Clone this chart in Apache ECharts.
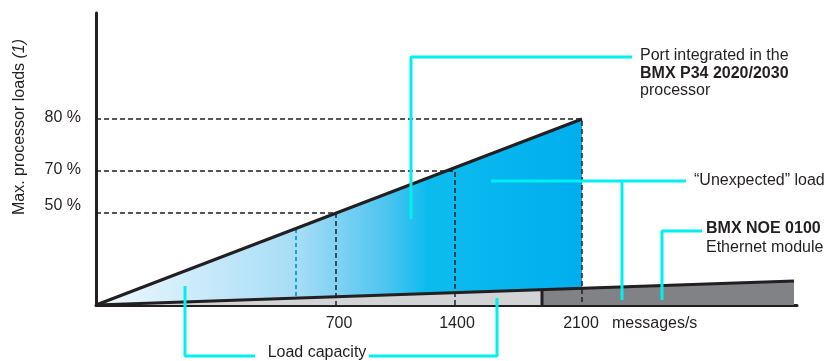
<!DOCTYPE html>
<html>
<head>
<meta charset="utf-8">
<script src="https://cdn.jsdelivr.net/npm/echarts@6/dist/echarts.min.js"></script>
<style>
  html, body { margin: 0; padding: 0; background: #fff; }
  #chart { width: 840px; height: 361px; }
</style>
</head>
<body>
<div id="chart"></div>
<script>
// schematic units: the drawing is not to scale, so axes run in plain diagram units
const xTickPos = [243, 361, 485]
const xTickLabels = ['700', '1400', '2100']
const yTickPos = [99, 135, 187]
const yTickLabels = ['50 %', '70 %', '80 %']

// processor port load line (0 -> 2100 msg/s) and its guide levels
const procLine = [[0, 0], [486, 186]]
const guidePoints = [[240, 92], [359, 134], [486, 186]]
// BMX NOE module load line, split where the light part ends
const moduleLine = [[0, 0], [698, 24]]
const splitX = 446
// extra dashed marker inside the triangle
const blueMarker = [[200, 76], [200, 8]]

// callout leader lines
const calloutPort = [[315, 86], [315, 248], [536, 248]]
const calloutUnexpH = [[395, 124], [590, 124]]
const calloutUnexpV = [[526, 124], [526, 5]]
const calloutNoe = [[566, 5], [566, 74], [606, 74]]
const calloutCapLeft = [[89, 19], [89, -51], [159, -51]]
const calloutCapRight = [[273, -51], [401, -51], [401, 7]]

const FONT = '"Liberation Sans", Arial, Helvetica, sans-serif'
const INK = '#231f20'
const CYAN = '#00f0f0'

const moduleAt = x => moduleLine[1][1] * x / moduleLine[1][0]

const polygons = {
  blue: [[0, 0], procLine[1], [procLine[1][0], moduleAt(procLine[1][0])]],
  light: [[0, 0], [splitX, moduleAt(splitX)], [splitX, 0]],
  dark: [[splitX, 0], [splitX, moduleAt(splitX)], moduleLine[1], [moduleLine[1][0], 0]]
}

const blueFill = new echarts.graphic.LinearGradient(0, 0, 1, 0, [
  { offset: 0, color: '#f0f9fe' },
  { offset: 0.42, color: '#a5dcf6' },
  { offset: 0.6, color: '#4cc4f0' },
  { offset: 0.68, color: '#0dbcee' },
  { offset: 1, color: '#00aeef' }
])

const polySeries = (name, pts, fill, z) => ({
  name,
  type: 'custom',
  z,
  clip: false,
  data: [0],
  renderItem: (params, api) => ({
    type: 'polygon',
    shape: { points: pts.map(p => api.coord(p)) },
    style: { fill }
  })
})

const lineSeries = (data, color, width, type, z) => ({
  type: 'line',
  data,
  z,
  clip: false,
  silent: true,
  symbol: 'none',
  animation: false,
  lineStyle: { color, width, type, cap: 'butt' }
})

const dashedGuides = guidePoints.map(p => lineSeries([[0, p[1]], p, [p[0], 0]], INK, 1.5, [5, 3], 3))

const chart = echarts.init(document.getElementById('chart'))

const txt = (text, x, y, extra) => ({
  type: 'text',
  x, y,
  z: 10,
  style: Object.assign({
    text,
    font: '16px ' + FONT,
    fill: INK,
    textAlign: 'left',
    textVerticalAlign: 'middle'
  }, extra || {})
})

chart.setOption({
  animation: false,
  grid: { left: 96, right: 43, top: 13, bottom: 56, containLabel: false, outerBoundsMode: 'none' },
  xAxis: {
    type: 'value',
    min: 0,
    max: 701,
    axisLine: { show: true, onZero: false, lineStyle: { color: INK, width: 3 } },
    axisTick: { show: false },
    splitLine: { show: false },
    axisLabel: {
      customValues: xTickPos,
      formatter: v => xTickLabels[xTickPos.indexOf(v)],
      margin: 11,
      color: INK,
      fontSize: 16,
      fontFamily: FONT
    }
  },
  yAxis: {
    type: 'value',
    min: 0,
    max: 292,
    axisLine: { show: true, onZero: false, lineStyle: { color: INK, width: 3 } },
    axisTick: { show: false },
    splitLine: { show: false },
    axisLabel: {
      customValues: yTickPos,
      formatter: v => yTickLabels[yTickPos.indexOf(v)],
      margin: 15,
      color: INK,
      fontSize: 16,
      fontFamily: FONT
    }
  },
  graphic: [
    {
      type: 'text',
      x: 20, y: 127,
      rotation: Math.PI / 2,
      style: {
        text: 'Max. processor loads {i|(1)}',
        font: '16px ' + FONT,
        fill: INK,
        textAlign: 'center',
        textVerticalAlign: 'middle',
        rich: { i: { fontStyle: 'italic', fontSize: 16, fontFamily: FONT, fill: INK } }
      }
    },
    txt('messages/s', 612, 323.5),
    txt('Load capacity', 317, 353, { textAlign: 'center' }),
    txt('Port integrated in the', 640, 56),
    txt('BMX P34 2020/2030', 640, 73.5, { font: 'bold 16px ' + FONT }),
    txt('processor', 640, 91),
    txt('\u201cUnexpected\u201d load', 694, 180.5),
    txt('BMX NOE 0100', 706, 229, { font: 'bold 16px ' + FONT }),
    txt('Ethernet module', 706, 247.5)
  ],
  series: [
    polySeries('light', polygons.light, '#d1d3d4', 1),
    polySeries('dark', polygons.dark, '#808285', 1),
    polySeries('blue', polygons.blue, blueFill, 1),
    ...dashedGuides,
    lineSeries(blueMarker, '#1ba0dc', 2, [4, 3], 3),
    lineSeries(procLine, INK, 3, 'solid', 4),
    lineSeries(moduleLine, INK, 3, 'solid', 4),
    lineSeries([[splitX, 0], [splitX, moduleAt(splitX)]], INK, 3, 'solid', 4),
    lineSeries(calloutPort, CYAN, 3, 'solid', 5),
    lineSeries(calloutUnexpH, CYAN, 3, 'solid', 5),
    lineSeries(calloutUnexpV, CYAN, 3, 'solid', 5),
    lineSeries(calloutNoe, CYAN, 3, 'solid', 5),
    lineSeries(calloutCapLeft, CYAN, 3, 'solid', 5),
    lineSeries(calloutCapRight, CYAN, 3, 'solid', 5)
  ]
})
</script>
</body>
</html>
